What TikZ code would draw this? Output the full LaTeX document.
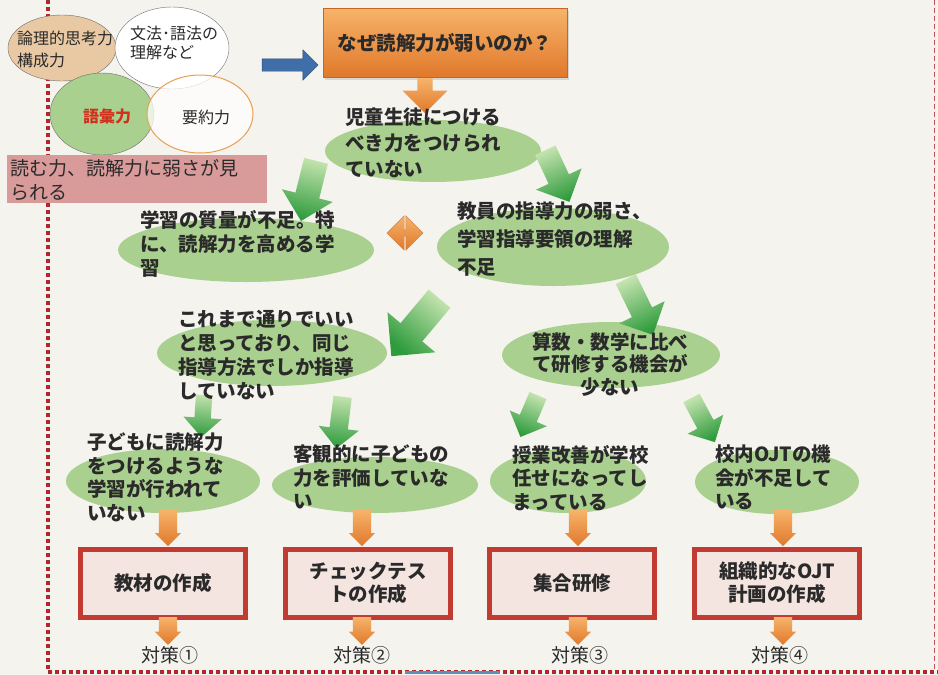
\documentclass[tikz,border=0pt]{standalone}
\usepackage{fontspec}
\newfontfamily\jp{Noto Sans CJK JP}
\usetikzlibrary{shapes.geometric,shapes.arrows,shadows}
\definecolor{bg}{HTML}{F4F3EE}
\definecolor{ellg}{HTML}{A9D08E}
\definecolor{txtc}{HTML}{2A2A2A}
\definecolor{tan}{HTML}{E9C9A3}
\definecolor{ellborder}{HTML}{6E6E6E}
\definecolor{pinkbox}{HTML}{D99A9A}
\definecolor{redt}{HTML}{D2301E}
\definecolor{orangeb}{HTML}{C9651F}
\definecolor{boxred}{HTML}{C23B32}
\definecolor{boxfill}{HTML}{F4E5E1}
\definecolor{glight}{HTML}{C3E3AE}
\definecolor{gdark}{HTML}{2E9B3C}
\definecolor{olight}{HTML}{F6B36A}
\definecolor{odark}{HTML}{E0782A}
\definecolor{bluea}{HTML}{3F6EA8}
\definecolor{dotred}{HTML}{B3262D}
\definecolor{ylw}{HTML}{E8A050}
\begin{document}
\begin{tikzpicture}[x=1pt,y=-1pt,
  ell/.style={ellipse, fill=ellg, inner sep=0pt},
  jtxt/.style={anchor=north west, align=left, inner sep=0pt, text=txtc, font=\jp\bfseries\fontsize{19.5}{24}\selectfont},
  smalltxt/.style={anchor=north west, align=left, inner sep=0pt, text=txtc, font=\jp\fontsize{16}{21}\selectfont},
  boxnode/.style={rectangle, draw=boxred, line width=5pt, fill=boxfill, minimum width=165pt, minimum height=68pt, align=center, inner sep=0pt, text=txtc, font=\jp\bfseries\fontsize{19.5}{23}\selectfont},
  garrow/.style={single arrow, minimum width=0pt, draw=none, top color=glight, bottom color=gdark},
  oarrow/.style={single arrow, shape border rotate=270, minimum width=0pt, draw=none, top color=olight, bottom color=odark, anchor=north},
  taisaku/.style={inner sep=0pt, text=txtc, font=\jp\fontsize{19}{22}\selectfont}
]
\useasboundingbox (0,0) rectangle (938,675);
\fill[bg] (0,0) rectangle (938,675);

% borders
\draw[dotred, line width=3.5pt, dash pattern=on 3.5pt off 3.5pt] (48,0) -- (48,672) -- (938,672);
\draw[bluea!80, line width=3pt] (405,672) -- (500,672);
\draw[dotred!80, line width=1pt, dash pattern=on 5pt off 3pt] (934,0) -- (934,672);

% top-left cluster
\node[ellipse, draw=ellborder, fill=tan, minimum width=108pt, minimum height=66pt, inner sep=0pt] (logic) at (62,48) {};
\node[ellipse, draw=ellborder, fill=ellg, minimum width=104pt, minimum height=82pt, inner sep=0pt] (goi) at (102,114) {};
\node[ellipse, draw=ellborder, fill=white, minimum width=114pt, minimum height=82pt, inner sep=0pt] (bunpo) at (172,48) {};
\node[ellipse, draw=ylw, line width=1pt, fill=white, fill opacity=0.75, minimum width=106pt, minimum height=78pt, inner sep=0pt] (yoyaku) at (200,114) {};
\node[smalltxt, font=\jp\fontsize{16}{22}\selectfont] (logict) at (17,31) {論理的思考力\\構成力};
\node[smalltxt, font=\jp\fontsize{16}{19}\selectfont] (bunpot) at (130,26) {文法･語法の\\理解など};
\node[inner sep=0pt, text=redt, font=\jp\bfseries\fontsize{16}{18}\selectfont] (goit) at (107,116) {語彙力};
\node[inner sep=0pt, text=txtc, font=\jp\fontsize{16}{18}\selectfont] (yoyakut) at (206,117) {要約力};
\node[rectangle, fill=pinkbox, minimum width=260pt, minimum height=48pt, inner sep=0pt, anchor=north west] (weak) at (7,155) {};
\node[smalltxt, font=\jp\fontsize{19}{24}\selectfont] (weakt) at (10,159) {読む力、読解力に弱さが見\\られる};

% blue arrow
\node[single arrow, inner sep=6pt, minimum width=0pt, fill=bluea, draw=bluea!70!black, minimum height=56pt, single arrow head extend=9pt] (blue) at (287,65) {};

% top box
\node[rectangle, draw=orangeb, line width=1pt, top color=olight, bottom color=odark, minimum width=244pt, minimum height=69pt, inner sep=0pt, text=txtc, font=\jp\bfseries\fontsize{19.5}{23}\selectfont, drop shadow={opacity=0.25, shadow xshift=2pt, shadow yshift=-2pt}] (why) at (445,43) {なぜ読解力が弱いのか？};
\node[oarrow, inner sep=7.5pt, minimum height=35pt, single arrow head extend=15pt] (oa0) at (why.south -| 425,0) {};

% ellipses
\node[ell, minimum width=216pt, minimum height=62pt] (jido) at (433,151) {};
\node[ell, minimum width=256pt, minimum height=64pt] (gaku) at (246,250) {};
\node[ell, minimum width=232pt, minimum height=78pt] (kyoin) at (553,247) {};
\node[ell, minimum width=230pt, minimum height=66pt] (kore) at (272,353) {};
\node[ell, minimum width=218pt, minimum height=66pt] (sansu) at (611,355) {};
\node[ell, minimum width=194pt, minimum height=64pt] (kodomo) at (163,481) {};
\node[ell, minimum width=206pt, minimum height=56pt] (kyakkan) at (375,485) {};
\node[ell, minimum width=156pt, minimum height=64pt] (jugyo) at (568,481) {};
\node[ell, minimum width=164pt, minimum height=64pt] (konai) at (777,482) {};

% green arrows (light tail, dark tip)
\node[garrow, inner sep=12pt, minimum height=62pt, single arrow head extend=14pt, rotate=-104, shading angle=-14] (g1) at (310,185) {};
\node[garrow, inner sep=11pt, minimum height=57pt, single arrow head extend=14pt, rotate=-65, shading angle=25] (g2) at (555,171) {};
\node[garrow, inner sep=14pt, minimum height=75pt, single arrow head extend=17pt, rotate=-130, shading angle=-40] (g3) at (420,322) {};
\node[garrow, inner sep=11pt, minimum height=62pt, single arrow head extend=14pt, rotate=-64, shading angle=26] (g4) at (637,302) {};
\node[garrow, inner sep=8pt, minimum height=42pt, single arrow head extend=11pt, rotate=-94, shading angle=-4] (g5) at (203,412) {};
\node[garrow, inner sep=9pt, minimum height=52pt, single arrow head extend=11pt, rotate=-97, shading angle=-7] (g6) at (340,418) {};
\node[garrow, inner sep=9pt, minimum height=45pt, single arrow head extend=11pt, rotate=-113, shading angle=-23] (g7) at (531,412) {};
\node[garrow, inner sep=9pt, minimum height=50pt, single arrow head extend=11pt, rotate=-62, shading angle=28] (g8) at (701,416) {};

% double arrow
\node[double arrow, inner sep=3pt, minimum width=0pt, top color=olight, bottom color=odark, draw=orangeb!80, minimum height=36pt, double arrow head extend=14pt] (dbl) at (405,233) {};

% ellipse texts
\node[jtxt, font=\jp\bfseries\fontsize{19.5}{26}\selectfont] (jidot) at (345,108) {児童生徒につける\\べき力をつけられ\\ていない};
\node[jtxt] (gakut) at (140,210) {学習の質量が不足。特\\に、読解力を高める学\\習};
\node[jtxt, font=\jp\bfseries\fontsize{19.5}{28}\selectfont] (kyoint) at (457,202) {教員の指導力の弱さ、\\学習指導要領の理解\\不足};
\node[jtxt] (koret) at (178,310) {これまで通りでいい\\と思っており、同じ\\指導方法でしか指導\\していない};
\node[jtxt, anchor=north, align=center, font=\jp\bfseries\fontsize{19.5}{22.5}\selectfont] (sansut) at (610,332) {算数・数学に比べ\\て研修する機会が\\少ない};
\node[jtxt, font=\jp\bfseries\fontsize{19.5}{23.5}\selectfont] (kodomot) at (87,433) {子どもに読解力\\をつけるような\\学習が行われて\\いない};
\node[jtxt, font=\jp\bfseries\fontsize{19.5}{23.5}\selectfont] (kyakkant) at (293,445) {客観的に子どもの\\力を評価していな\\い};
\node[jtxt, font=\jp\bfseries\fontsize{19.5}{23.5}\selectfont] (jugyot) at (512,445) {授業改善が学校\\任せになってし\\まっている};
\node[jtxt, font=\jp\bfseries\fontsize{19.5}{23.5}\selectfont] (konait) at (715,445) {校内OJTの機\\会が不足して\\いる};

% boxes
\node[boxnode] (b1) at (163,583) {教材の作成};
\node[boxnode] (b2) at (368,583) {チェックテス\\トの作成};
\node[boxnode] (b3) at (572,583) {集合研修};
\node[boxnode] (b4) at (777,583) {組織的なOJT\\計画の作成};

% orange arrows ellipse -> box and box -> label
\foreach \bx/\xx in {b1/168,b2/362,b3/578,b4/783}{
  \node[oarrow, inner sep=9pt, minimum height=36pt, single arrow head extend=4pt, anchor=south] (oa-\bx) at (\bx.north -| \xx,0) {};
  \node[oarrow, inner sep=9pt, minimum height=22pt, single arrow head extend=4pt] (ob-\bx) at ([yshift=2.5pt]\bx.south -| \xx,0) {};
}

% labels
\node[taisaku] (t1) at (170,655) {対策①};
\node[taisaku] (t2) at (362,655) {対策②};
\node[taisaku] (t3) at (580,655) {対策③};
\node[taisaku] (t4) at (780,655) {対策④};
\end{tikzpicture}
\end{document}
